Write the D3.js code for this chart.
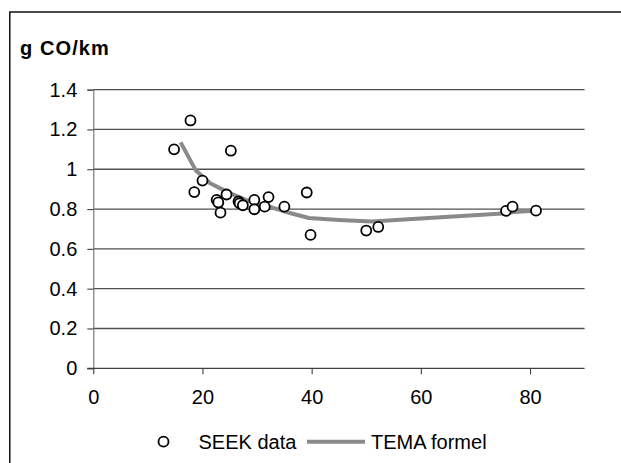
<!DOCTYPE html>
<html>
<head>
<meta charset="utf-8">
<script src="https://cdn.jsdelivr.net/npm/d3@7"></script>
<style>
  html, body { margin: 0; padding: 0; background: #fff; }
  svg { display: block; }
  text { font-family: "Liberation Sans", Arial, sans-serif; fill: #000; }
</style>
</head>
<body>
<svg id="chart" width="621" height="463"></svg>
<script>
// SEEK measurements: speed (km/h) and CO emission (g/km)
const seekSpeed = [14.8, 17.8, 18.5, 20.0, 22.6, 22.9, 23.3, 24.4, 25.2, 26.6, 26.8, 27.4,
                   29.5, 29.5, 31.4, 32.1, 35.0, 39.1, 39.8, 50.0, 52.2, 75.6, 76.8, 81.1];
const seekCO    = [1.10, 1.245, 0.885, 0.943, 0.846, 0.833, 0.782, 0.873, 1.093, 0.838, 0.829, 0.819,
                   0.846, 0.799, 0.812, 0.86, 0.812, 0.883, 0.670, 0.692, 0.710, 0.791, 0.812, 0.792];

// TEMA formula curve
const temaSpeed = [16.0, 18.8, 21.4, 25.0, 28.0, 31.8, 36.0, 39.5, 45.0, 51.0, 75.7, 76.9, 81.1];
const temaCO    = [1.135, 0.993, 0.93, 0.88, 0.845, 0.816, 0.78, 0.755, 0.745, 0.737, 0.779, 0.785, 0.792];

const xTicks = [0, 20, 40, 60, 80];
const yTicks = [0, 0.2, 0.4, 0.6, 0.8, 1, 1.2, 1.4];

const svg = d3.select("#chart");

const x = d3.scaleLinear().domain([0, 90]).range([93.3, 584.6]);
const y = d3.scaleLinear().domain([0, 1.4]).range([368.3, 89.6]);

// Outer chart border
svg.append("rect")
  .attr("x", 9.8).attr("y", 12).attr("width", 660).attr("height", 520)
  .attr("fill", "none").attr("stroke", "#000").attr("stroke-width", 1.4);

// Axis title
svg.append("text")
  .attr("x", 20).attr("y", 55)
  .attr("font-size", 20).attr("font-weight", "bold")
  .attr("letter-spacing", 1.1)
  .text("g CO/km");

// Horizontal gridlines
svg.append("g").selectAll("line")
  .data(yTicks.filter(d => d > 0))
  .join("line")
  .attr("x1", x(0)).attr("x2", x(90))
  .attr("y1", d => y(d)).attr("y2", d => y(d))
  .attr("stroke", "#505050").attr("stroke-width", 1.3);

// Y axis
const yAxis = d3.axisLeft(y).tickValues(yTicks).tickSize(6).tickPadding(10)
  .tickFormat(d => d3.format("")(d));
const gy = svg.append("g").attr("transform", `translate(${x(0)},0)`).call(yAxis);
gy.select(".domain").attr("stroke", "#707070").attr("stroke-width", 1.1);
gy.selectAll(".tick line").attr("stroke", "#404040").attr("stroke-width", 1.1);
gy.selectAll(".tick text")
  .attr("font-size", 20).attr("font-family", "Liberation Sans, Arial, sans-serif")
  .attr("fill", "#000");

// X axis
const xAxis = d3.axisBottom(x).tickValues(xTicks).tickSize(6).tickPadding(16);
const gx = svg.append("g").attr("transform", `translate(0,${y(0)})`).call(xAxis);
gx.select(".domain").attr("stroke", "#404040").attr("stroke-width", 1.3)
  .attr("d", `M${x(0) - 6},0H${x(90)}`);
gx.selectAll(".tick line").attr("stroke", "#404040").attr("stroke-width", 1.1);
gx.selectAll(".tick text")
  .attr("font-size", 20).attr("font-family", "Liberation Sans, Arial, sans-serif")
  .attr("fill", "#000");

// TEMA formula line
const line = d3.line().x((d, i) => x(temaSpeed[i])).y((d, i) => y(temaCO[i]));
svg.append("path")
  .datum(temaSpeed)
  .attr("d", line)
  .attr("fill", "none")
  .attr("stroke", "#8a8a8a")
  .attr("stroke-width", 4)
  .attr("stroke-linejoin", "round");

// SEEK data markers
svg.append("g").selectAll("circle")
  .data(seekSpeed)
  .join("circle")
  .attr("cx", (d, i) => x(seekSpeed[i]))
  .attr("cy", (d, i) => y(seekCO[i]))
  .attr("r", 5)
  .attr("fill", "#fff")
  .attr("stroke", "#000")
  .attr("stroke-width", 1.8);

// Legend
const lg = svg.append("g");
lg.append("circle").attr("cx", 163.5).attr("cy", 441.7).attr("r", 5)
  .attr("fill", "#fff").attr("stroke", "#000").attr("stroke-width", 1.8);
lg.append("text").attr("x", 198.5).attr("y", 448.5).attr("font-size", 20).text("SEEK data");
lg.append("line").attr("x1", 307).attr("x2", 365).attr("y1", 441.7).attr("y2", 441.7)
  .attr("stroke", "#8a8a8a").attr("stroke-width", 4);
lg.append("text").attr("x", 371).attr("y", 448.5).attr("font-size", 20).text("TEMA formel");
</script>
</body>
</html>
